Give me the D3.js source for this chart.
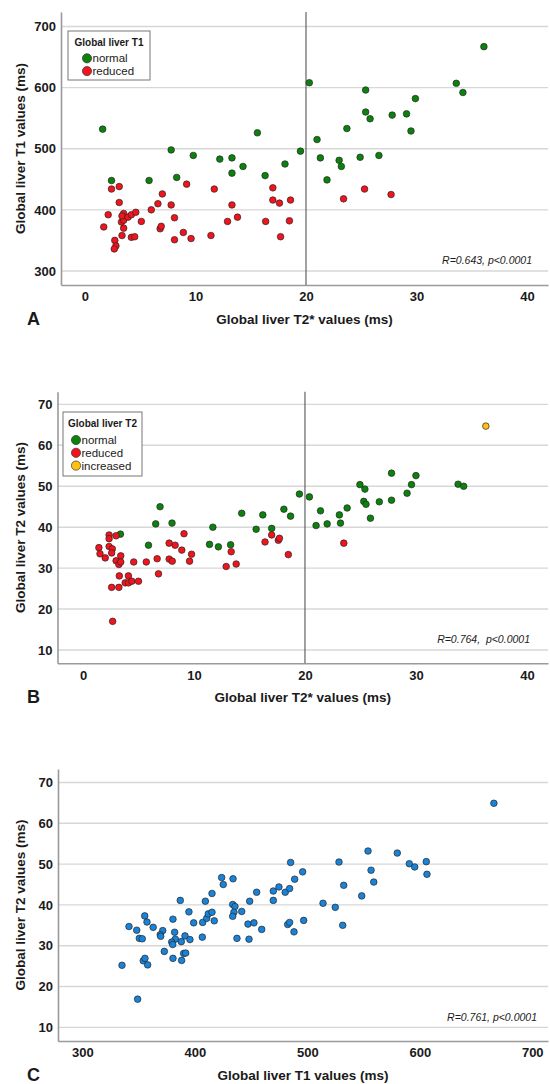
<!DOCTYPE html>
<html>
<head>
<meta charset="utf-8">
<script src="https://cdn.jsdelivr.net/npm/d3@7"></script>
<style>
  body { margin: 0; background: #fff; }
  text { font-family: "Liberation Sans", Arial, sans-serif; fill: #1a1a1a; }
</style>
</head>
<body>
<svg id="chart" width="550" height="1084"></svg>
<script>
// ---- Panel A: T2* (x) vs T1 (y), coloured by T1 class
const aNormal = [[1.6,532],[7.8,498],[9.8,489],[12.2,483],[13.3,485],[14.3,471],[15.6,526],
  [2.4,448],[5.8,448],[8.3,453],[13.3,460],[16.3,456],[36.1,667],[20.3,608],[25.4,596],
  [33.6,607],[34.2,592],[29.9,582],[25.4,560],[25.8,549],[27.8,555],[29.1,557],[23.7,533],
  [29.5,529],[21.0,515],[19.5,496],[21.3,485],[23.0,481],[23.2,471],[24.9,486],[26.6,489],
  [18.1,475],[21.9,449]];
const aReduced = [[2.4,434],[3.1,438],[3.1,412],[2.1,392],[1.7,372],[2.7,350],[2.8,341],
  [2.65,336],[3.35,358],[3.5,370],[3.3,380],[3.5,383],[3.5,394],[3.35,390],[3.9,388],
  [4.2,392],[4.6,396],[4.2,355],[4.5,356],[5.1,381],[6.0,400],[6.6,410],[7.0,426],[6.8,369],
  [6.9,373],[7.8,408],[8.1,387],[8.1,351],[9.2,442],[8.9,363],[9.6,353],[11.4,358],[11.7,434],
  [12.9,381],[13.3,408],[13.8,388],[16.35,381],[17.0,436],[17.0,416],[25.3,434],[27.7,425],
  [23.4,418],[17.6,411],[18.6,416],[18.5,382],[17.7,356]];

// ---- Panel B: T2* (x) vs T2 (y), coloured by T2 class
const bNormal = [[6.55,40.8],[6.94,45.0],[8.02,41.0],[11.7,40.0],[14.3,43.4],[16.2,43.0],
  [15.6,39.5],[17.0,39.7],[27.8,53.2],[30.0,52.6],[33.8,50.5],[34.3,50.0],[24.95,50.4],
  [25.4,49.3],[29.6,50.4],[29.2,48.3],[19.5,48.1],[20.4,47.4],[18.1,44.4],[18.7,42.7],
  [21.4,44.0],[23.8,44.7],[23.1,43.0],[25.3,46.3],[25.5,45.6],[26.7,46.2],[27.8,46.6],
  [25.9,42.2],[21.0,40.4],[22.0,40.8],[23.2,41.0],[3.37,38.3],[5.9,35.6],[11.4,35.8],
  [12.2,35.2],[13.3,35.7]];
const bReduced = [[23.5,36.1],[1.43,35.0],[1.53,33.5],[2.0,32.5],[2.35,38.1],[2.35,37.2],
  [2.35,35.3],[2.64,34.7],[2.58,33.7],[2.98,37.9],[2.98,31.8],[3.23,30.9],[3.4,33.0],
  [3.4,31.5],[3.27,28.1],[2.58,25.3],[3.23,25.3],[2.67,17.0],[3.8,26.4],[4.09,28.1],
  [4.1,26.4],[4.4,26.8],[5.0,26.8],[4.57,31.5],[5.7,31.5],[6.68,32.3],[6.8,28.6],[7.76,36.1],
  [8.3,35.6],[7.76,32.2],[8.04,31.7],[8.9,34.4],[9.1,38.4],[9.78,33.4],[9.6,31.7],[12.9,30.4],
  [13.35,34.0],[13.8,31.0],[16.4,36.4],[17.0,38.1],[17.6,36.8],[17.7,37.3],[18.5,33.3]];
const bIncreased = [[36.3,64.7]];

// ---- Panel C: T1 (x) vs T2 (y)
const cPoints = [[363,34.5],[371.5,33.7],[369.3,32.7],[369.7,32.3],[380.6,36.5],[382.1,33.3],
  [387.1,41.1],[394.8,38.3],[399,35.6],[382.7,31.6],[379.5,30.9],[380.4,30.3],[388,31.0],
  [391.3,32.4],[395.7,31.5],[372.9,28.6],[380.6,26.9],[388.3,26.4],[390.1,28.1],[391.9,28.2],
  [406.7,32.1],[407,35.7],[409.4,40.9],[410.6,36.7],[412,37.8],[415.3,38.2],[417.3,36.1],
  [415.3,42.8],[423.9,46.7],[425.3,45.0],[434,46.4],[433.7,40.1],[435.7,39.6],[434.8,38.2],
  [433.7,37.2],[441.7,38.4],[437.5,31.8],[448.2,31.6],[447.3,35.3],[452.6,35.6],[448.8,40.9],
  [455,43.1],[459.5,34.0],[469.8,43.4],[469.8,41.1],[474.8,44.4],[480.4,43.1],[484.3,44.0],
  [485.2,50.4],[495.9,48.1],[488.8,46.3],[482.6,35.2],[484.3,35.7],[488.2,33.4],[496.8,36.2],
  [514,40.4],[524.9,39.4],[531.5,35.0],[528.2,50.5],[532.4,44.8],[554,53.2],[556.7,48.5],
  [559.1,45.6],[548.4,42.2],[580,52.7],[590.7,50.1],[595.5,49.3],[605.8,50.6],[606.4,47.5],
  [335.3,25.2],[341.5,34.7],[348.4,33.8],[349.2,16.9],[350.7,31.8],[353.3,31.7],[355.5,37.3],
  [357.5,35.8],[354.2,26.3],[355.7,26.9],[358.1,25.3],[665.9,64.9]];

const ticksT2star = [0, 10, 20, 30, 40];
const ticksT1 = [300, 400, 500, 600, 700];
const ticksT2 = [10, 20, 30, 40, 50, 60, 70];

const GREEN = '#0b820b', RED = '#f2131c', YELLOW = '#ffc20e', BLUE = '#1883d8';

const svg = d3.select('#chart');
const RIGHT = 548;

function panel(o) {
  const x = d3.scaleLinear().domain(o.xDomain).range([o.left, RIGHT]);
  const y = d3.scaleLinear().domain(o.yDomain).range([o.bottom, o.top]);
  const g = svg.append('g');

  // horizontal grid lines
  g.selectAll('.grid').data(o.yTicks).enter().append('line')
    .attr('x1', o.left).attr('x2', RIGHT)
    .attr('y1', d => y(d)).attr('y2', d => y(d))
    .attr('stroke', '#d7d7d7').attr('stroke-width', 1.4);

  // axes
  const yAxis = g.append('g').attr('transform', `translate(${o.left},0)`)
    .call(d3.axisLeft(y).tickValues(o.yTicks).tickSize(0).tickSizeOuter(0).tickPadding(5));
  const xAxis = g.append('g').attr('transform', `translate(0,${o.bottom})`)
    .call(d3.axisBottom(x).tickValues(o.xTicks).tickSize(0).tickSizeOuter(0).tickPadding(7));
  [xAxis, yAxis].forEach(a => {
    a.select('.domain').attr('stroke', '#9a9a9a').attr('stroke-width', 1.6);
    a.selectAll('text').style('font-size', '13px').style('font-weight', 'bold')
      .style('font-family', '"Liberation Sans", Arial, sans-serif').attr('fill', '#1a1a1a');
  });

  // reference line
  if (o.refX !== undefined) {
    g.append('line').attr('x1', x(o.refX)).attr('x2', x(o.refX))
      .attr('y1', o.top).attr('y2', o.bottom)
      .attr('stroke', '#555').attr('stroke-width', 1.1);
  }

  // points
  o.groups.forEach(grp => {
    g.selectAll(null).data(grp.data).enter().append('circle')
      .attr('cx', d => x(d[0])).attr('cy', d => y(d[1]))
      .attr('r', 3.3)
      .attr('fill', grp.color).attr('stroke', '#262626').attr('stroke-width', 0.7);
  });

  // axis titles
  g.append('text').attr('x', (o.left + RIGHT) / 2).attr('y', o.bottom + 39)
    .attr('text-anchor', 'middle').style('font-size', '13.5px').style('font-weight', 'bold')
    .text(o.xLabel);
  g.append('text').attr('transform', `translate(25,${(o.top + o.bottom) / 2}) rotate(-90)`)
    .attr('text-anchor', 'middle').style('font-size', '13.5px').style('font-weight', 'bold')
    .text(o.yLabel);
  g.append('text').attr('x', 27).attr('y', o.bottom + 40)
    .style('font-size', '18px').style('font-weight', 'bold').text(o.letter);

  // stats note
  g.append('text').attr('x', o.noteX).attr('y', o.noteY)
    .attr('text-anchor', 'end').style('font-size', '10.5px').style('font-style', 'italic')
    .style('white-space', 'pre').text(o.note);

  // legend
  if (o.legend) {
    const L = o.legend;
    const lg = g.append('g').attr('transform', `translate(${L.x},${L.y})`);
    lg.append('rect').attr('width', L.w).attr('height', L.h)
      .attr('fill', '#fff').attr('stroke', '#777').attr('stroke-width', 1);
    lg.append('text').attr('x', L.w / 2).attr('y', 14.5).attr('text-anchor', 'middle')
      .style('font-size', '10px').style('font-weight', 'bold').text(L.title);
    const rows = lg.selectAll('.row').data(L.items).enter().append('g')
      .attr('transform', (d, i) => `translate(${L.cx},${L.first + i * 12.8})`);
    rows.append('circle').attr('r', 4.6).attr('fill', d => d.color)
      .attr('stroke', '#333').attr('stroke-width', 0.7);
    rows.append('text').attr('x', 5.5).attr('y', 4).style('font-size', '11.5px')
      .text(d => d.label);
  }
}

panel({
  left: 61, top: 12, bottom: 285,
  xDomain: [-2.17, 41.9], yDomain: [277, 723.7],
  xTicks: ticksT2star, yTicks: ticksT1, refX: 20,
  groups: [{ data: aNormal, color: GREEN }, { data: aReduced, color: RED }],
  xLabel: 'Global liver T2* values (ms)', yLabel: 'Global liver T1 values (ms)', letter: 'A',
  note: 'R=0.643, p<0.0001', noteX: 532, noteY: 264,
  legend: { x: 68, y: 31, w: 82, h: 49, cx: 19, first: 27.3, title: 'Global liver T1',
    items: [{ label: 'normal', color: GREEN }, { label: 'reduced', color: RED }] }
});

panel({
  left: 57.5, top: 391.7, bottom: 663.3,
  xDomain: [-2.3, 41.9], yDomain: [6.75, 73.1],
  xTicks: ticksT2star, yTicks: ticksT2, refX: 20,
  groups: [{ data: bNormal, color: GREEN }, { data: bReduced, color: RED }, { data: bIncreased, color: YELLOW }],
  xLabel: 'Global liver T2* values (ms)', yLabel: 'Global liver T2 values (ms)', letter: 'B',
  note: 'R=0.764,  p<0.0001', noteX: 530, noteY: 643,
  legend: { x: 63, y: 412, w: 79, h: 64, cx: 13, first: 28, title: 'Global liver T2',
    items: [{ label: 'normal', color: GREEN }, { label: 'reduced', color: RED }, { label: 'increased', color: YELLOW }] }
});

panel({
  left: 58, top: 769, bottom: 1041,
  xDomain: [278.4, 714], yDomain: [6.65, 73.3],
  xTicks: ticksT1, yTicks: ticksT2,
  groups: [{ data: cPoints, color: BLUE }],
  xLabel: 'Global liver T1 values (ms)', yLabel: 'Global liver T2 values (ms)', letter: 'C',
  note: 'R=0.761, p<0.0001', noteX: 537, noteY: 1021
});
</script>
</body>
</html>
